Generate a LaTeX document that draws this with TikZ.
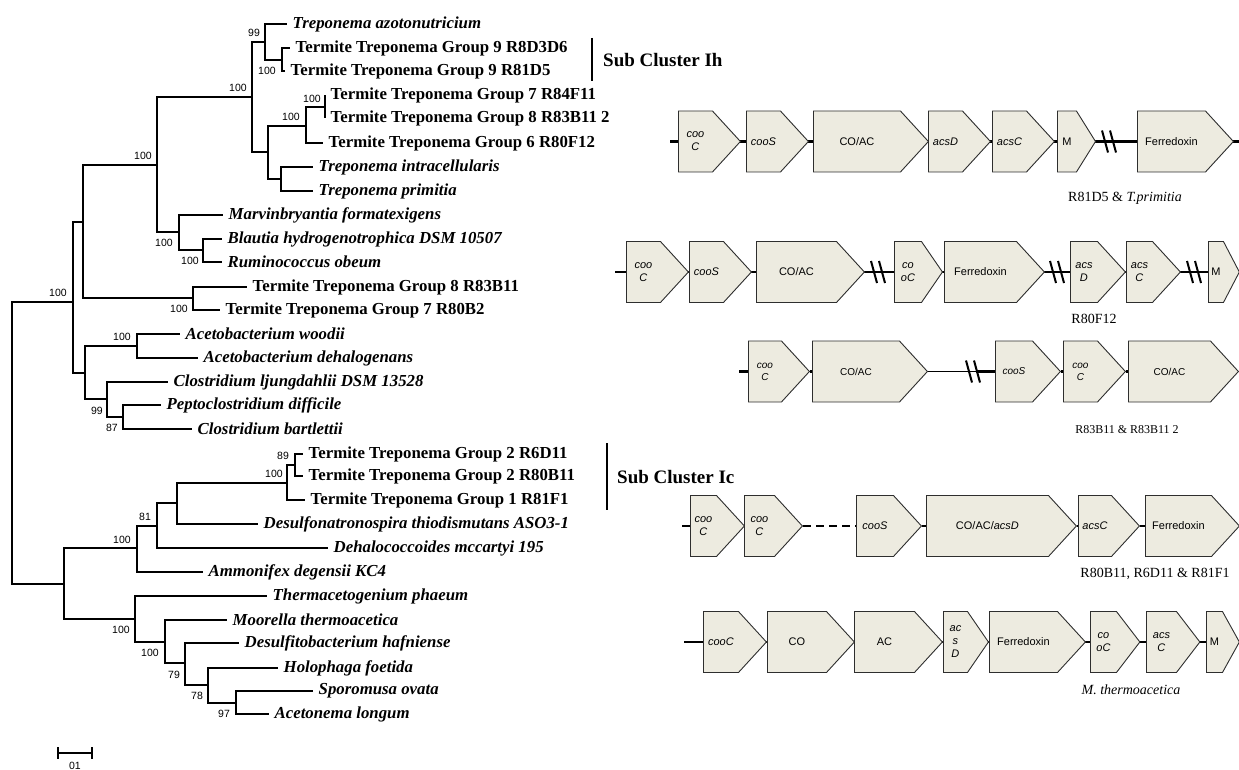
\documentclass[tikz,border=0pt]{standalone}
\usepackage{fontspec}
\setmainfont{Liberation Serif}
\newfontfamily\genefont{Liberation Sans}
\usetikzlibrary{positioning,shapes.symbols}
\definecolor{GeneFill}{HTML}{EDEBE0}
\definecolor{GeneLine}{HTML}{2E2E2E}

\begin{document}
\begin{tikzpicture}[x=1pt,y=-1pt,
  br/.style={line width=2pt},
  sp/.style={anchor=west,inner xsep=5.5pt,inner ysep=0pt,font=\fontsize{16.8}{17}\selectfont\bfseries\itshape},
  tt/.style={sp,font=\fontsize{16.8}{17}\selectfont\bfseries},
  bs/.style={inner sep=0pt,font=\genefont\fontsize{10.5}{10.5}\selectfont},
  sub/.style={anchor=west,inner sep=0pt,font=\fontsize{19}{19}\selectfont\bfseries},
  bb/.style={line width=2.6pt},
  gene/.style={signal,signal to=east,signal pointer angle=95,draw=GeneLine,fill=GeneFill,line width=0.9pt,
    minimum height=61pt,inner sep=0pt,anchor=west,align=center,font=\genefont\fontsize{11}{13}\selectfont},
  igene/.style={gene,font=\genefont\itshape\fontsize{11}{13}\selectfont},
  lab/.style={inner sep=0pt,font=\fontsize{14}{14}\selectfont},
  brk/.pic={\draw[line width=2pt] (-7,-11) -- (-1,11) (1,-11) -- (7,11);}]
\useasboundingbox (0,0) rectangle (1239,770);

% tree: inner nodes
\coordinate (root) at (12,443);
\coordinate (nA) at (73,302);
\coordinate (nB) at (83,222);
\coordinate (nC) at (157,165);
\coordinate (nD) at (193,298);
\coordinate (nE) at (85,373);
\coordinate (nF) at (252,97);
\coordinate (nG) at (179,232);
\coordinate (nH) at (265,42);
\coordinate (nI) at (268,152);
\coordinate (nJ) at (282,60);
\coordinate (nK) at (306,126);
\coordinate (nL) at (281,179);
\coordinate (nM) at (325,107);
\coordinate (nN) at (203,250);
\coordinate (nO) at (137,346);
\coordinate (nP) at (107,399);
\coordinate (nQ) at (123,417);
\coordinate (nR) at (64,584);
\coordinate (nS) at (137,548);
\coordinate (nT) at (135,619);
\coordinate (nU) at (157,526);
\coordinate (nV) at (177,503);
\coordinate (nW) at (287,483);
\coordinate (nX) at (295,465);
\coordinate (nY) at (165,642);
\coordinate (nZ) at (185,663);
\coordinate (nAA) at (208,685);
\coordinate (nAB) at (236,703);

% tree: leaves
\node[sp] (azo) at (287,24) {Treponema azotonutricium};
\node[tt] (tg9a) at (290,48) {Termite Treponema Group 9 R8D3D6};
\node[tt] (tg9b) at (285,71) {Termite Treponema Group 9 R81D5};
\node[tt] (tg7a) at (325,95) {Termite Treponema Group 7 R84F11};
\node[tt] (tg8b) at (325,118) {Termite Treponema Group 8 R83B11 2};
\node[tt] (tg6) at (323,143) {Termite Treponema Group 6 R80F12};
\node[sp] (intra) at (313,167) {Treponema intracellularis};
\node[sp] (prim) at (313,191) {Treponema primitia};
\node[sp] (marv) at (223,215) {Marvinbryantia formatexigens};
\node[sp] (blau) at (222,239) {Blautia hydrogenotrophica DSM 10507};
\node[sp] (rumi) at (222,262) {Ruminococcus obeum};
\node[tt] (tg8a) at (247,287) {Termite Treponema Group 8 R83B11};
\node[tt] (tg7b) at (220,310) {Termite Treponema Group 7 R80B2};
\node[sp] (woodii) at (180,334) {Acetobacterium woodii};
\node[sp] (dehal) at (198,358) {Acetobacterium dehalogenans};
\node[sp] (ljung) at (168,382) {Clostridium ljungdahlii DSM 13528};
\node[sp] (diff) at (161,405) {Peptoclostridium difficile};
\node[sp] (bart) at (192,429) {Clostridium bartlettii};
\node[tt] (tg2a) at (303,454) {Termite Treponema Group 2 R6D11};
\node[tt] (tg2b) at (303,476) {Termite Treponema Group 2 R80B11};
\node[tt] (tg1) at (305,500) {Termite Treponema Group 1 R81F1};
\node[sp] (desulfo) at (258,524) {Desulfonatronospira thiodismutans ASO3-1};
\node[sp] (dhc) at (328,548) {Dehalococcoides mccartyi 195};
\node[sp] (ammo) at (203,572) {Ammonifex degensii KC4};
\node[sp] (therm) at (267,596) {Thermacetogenium phaeum};
\node[sp] (moor) at (227,620) {Moorella thermoacetica};
\node[sp] (hafn) at (239,643) {Desulfitobacterium hafniense};
\node[sp] (holo) at (278,668) {Holophaga foetida};
\node[sp] (sporo) at (313,691) {Sporomusa ovata};
\node[sp] (aceto) at (269,714) {Acetonema longum};

\foreach \p/\c in {root/nA,root/nR,nA/nB,nA/nE,nB/nC,nB/nD,nC/nF,nC/nG,nF/nH,nF/nI,nH/nJ,
  nI/nK,nI/nL,nK/nM,nG/nN,nE/nO,nE/nP,nP/nQ,nR/nS,nR/nT,nS/nU,nU/nV,nV/nW,nW/nX,nT/nY,
  nY/nZ,nZ/nAA,nAA/nAB}
  \draw[br] (\p) |- (\c);
\foreach \p/\c in {nH/azo,nJ/tg9a,nJ/tg9b,nM/tg7a,nM/tg8b,nK/tg6,nL/intra,nL/prim,nG/marv,
  nN/blau,nN/rumi,nD/tg8a,nD/tg7b,nO/woodii,nO/dehal,nP/ljung,nQ/diff,nQ/bart,nX/tg2a,
  nX/tg2b,nW/tg1,nV/desulfo,nU/dhc,nS/ammo,nT/therm,nY/moor,nZ/hafn,nAA/holo,nAB/sporo,nAB/aceto}
  \draw[br] (\p) |- (\c.west);

% bootstrap values
\node[bs] (b1) at (254,33) {99};
\node[bs] (b2) at (267,71) {100};
\node[bs] (b3) at (238,88) {100};
\node[bs] (b4) at (312,99) {100};
\node[bs] (b5) at (291,117) {100};
\node[bs] (b6) at (143,156) {100};
\node[bs] (b7) at (164,243) {100};
\node[bs] (b8) at (190,261) {100};
\node[bs] (b9) at (58,293) {100};
\node[bs] (b10) at (179,309) {100};
\node[bs] (b11) at (122,337) {100};
\node[bs] (b12) at (97,411) {99};
\node[bs] (b13) at (112,428) {87};
\node[bs] (b14) at (283,456) {89};
\node[bs] (b15) at (274,474) {100};
\node[bs] (b16) at (145,517) {81};
\node[bs] (b17) at (122,540) {100};
\node[bs] (b18) at (121,630) {100};
\node[bs] (b19) at (150,653) {100};
\node[bs] (b20) at (174,675) {79};
\node[bs] (b21) at (197,696) {78};
\node[bs] (b22) at (224,714) {97};

% scale bar
\draw[line width=1.6pt] (58,747) -- (58,759) (58,753) -- (92,753) (92,747) -- (92,759);
\node[bs] (scl) at (75,766) {01};

% sub clusters
\node[sub] (ih) at (603,60) {Sub Cluster Ih};
\draw[line width=2.2pt] (592,38) -- (592,81);
\node[sub] (ic) at (617,477) {Sub Cluster Ic};
\draw[line width=2.2pt] (607,443) -- (607,510);

% row 1: R81D5 & T. primitia
\coordinate (r1s) at (670,141.5);
\coordinate (r1t) at (1239,141.5);
\draw[bb] (r1s) -- (r1t);
\node[igene,text width=34pt] (r1a) at (678,141.5) {coo\\C};
\node[igene,text width=34pt] (r1b) at (746,141.5) {cooS};
\node[gene,text width=87pt] (r1c) at (813,141.5) {CO/AC};
\node[igene,text width=34pt] (r1d) at (928,141.5) {acsD};
\node[igene,text width=34pt] (r1e) at (992,141.5) {acsC};
\node[gene,text width=19pt,signal pointer angle=116] (r1f) at (1057,141.5) {M};
\node[gene,text width=68pt] (r1g) at (1137,141.5) {Ferredoxin};
\pic at (1109,141.5) {brk};
\node[lab] (l1) at (1125,198) {R81D5 \& \textit{T.primitia}};

% row 2: R80F12
\coordinate (r2s) at (615,272);
\draw[bb] (r2s) -- (1210,272);
\node[igene,text width=34pt] (r2a) at (626,272) {coo\\C};
\node[igene,text width=34pt] (r2b) at (689,272) {cooS};
\node[gene,text width=80pt] (r2c) at (756,272) {CO/AC};
\node[igene,text width=27pt,signal pointer angle=111] (r2d) at (894,272) {co\\oC};
\node[gene,text width=72pt] (r2e) at (944,272) {Ferredoxin};
\node[igene,text width=27pt] (r2f) at (1070,272) {acs\\D};
\node[igene,text width=26pt] (r2g) at (1126,272) {acs\\C};
\node[gene,text width=15pt,signal pointer angle=125] (r2h) at (1208,272) {M};
\pic at (878,272) {brk};
\pic at (1057,272) {brk};
\pic at (1194,272) {brk};
\node[lab] (l2) at (1094,319) {R80F12};

% row 3: R83B11 & R83B11 2
\coordinate (r3s) at (739,371.5);
\draw[bb] (r3s) -- (748,371.5);
\node[igene,text width=33pt,font=\genefont\itshape\fontsize{10}{12}\selectfont] (r3a) at (748,371.5) {coo\\C};
\node[gene,text width=87pt,font=\genefont\fontsize{10}{12}\selectfont] (r3b) at (812,371.5) {CO/AC};
\node[igene,text width=37pt,font=\genefont\itshape\fontsize{10}{12}\selectfont] (r3c) at (995,371.5) {cooS};
\node[igene,text width=34pt,font=\genefont\itshape\fontsize{10}{12}\selectfont] (r3d) at (1063,371.5) {coo\\C};
\node[gene,text width=82pt,font=\genefont\fontsize{10}{12}\selectfont] (r3e) at (1128,371.5) {CO/AC};
\coordinate (r3k) at (976,371.5);
\draw[line width=1.3pt] (r3b.east) -- (r3k);
\draw[bb] (r3k) -- (r3c.west);
\draw[bb] (r3a.east) -- (r3b.west) (r3c.east) -- (r3d.west) (r3d.east) -- (r3e.west);
\pic at (973,371.5) {brk};
\node[lab,font=\fontsize{12}{12}\selectfont] (l3) at (1127,430) {R83B11 \& R83B11 2};

% row 4: R80B11, R6D11 & R81F1
\coordinate (r4s) at (682,526);
\draw[bb] (r4s) -- (690,526);
\node[igene,text width=26pt] (r4a) at (690,526) {coo\\C};
\node[igene,text width=30pt] (r4b) at (744,526) {coo\\C};
\node[igene,text width=37pt] (r4c) at (856,526) {cooS};
\node[gene,text width=122pt] (r4d) at (926,526) {CO/AC/\textit{acsD}};
\node[igene,text width=33pt] (r4e) at (1078,526) {acsC};
\node[gene,text width=66pt] (r4f) at (1145,526) {Ferredoxin};
\draw[bb,dash pattern=on 8pt off 5pt] (r4b.east) -- (r4c.west);
\draw[bb] (r4c.east) -- (r4d.west) (r4d.east) -- (r4e.west) (r4e.east) -- (r4f.west);
\node[lab] (l4) at (1155,574) {R80B11, R6D11 \& R81F1};

% row 5: M. thermoacetica
\coordinate (r5s) at (684,642);
\draw[bb] (r5s) -- (1208,642);
\node[igene,text width=35pt] (r5a) at (703,642) {cooC};
\node[gene,text width=59pt] (r5b) at (767,642) {CO};
\node[gene,text width=60pt] (r5c) at (854,642) {AC};
\node[igene,text width=24pt,signal pointer angle=111] (r5d) at (943,642) {ac\\s\\D};
\node[gene,text width=68pt] (r5e) at (989,642) {Ferredoxin};
\node[igene,text width=26pt,signal pointer angle=105] (r5f) at (1090,642) {co\\oC};
\node[igene,text width=30pt,signal pointer angle=105] (r5g) at (1146,642) {acs\\C};
\node[gene,text width=16pt,signal pointer angle=122] (r5h) at (1206,642) {M};
\node[lab] (l5) at (1131,690) {\textit{M. thermoacetica}};
\end{tikzpicture}
\end{document}
